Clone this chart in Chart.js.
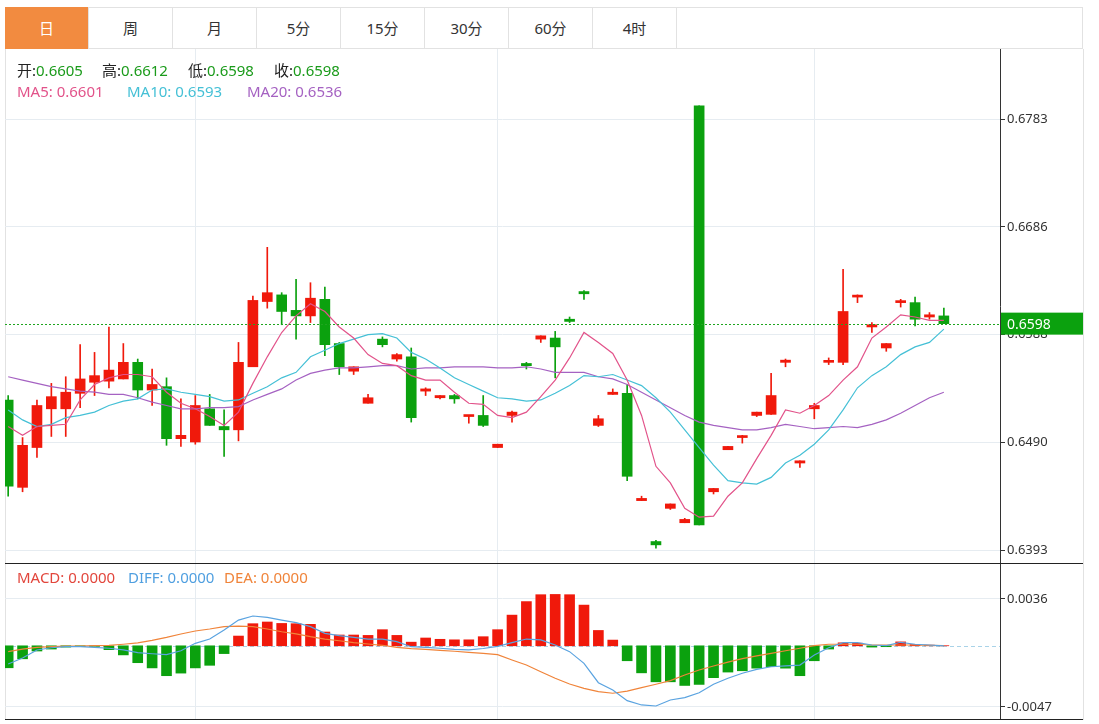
<!DOCTYPE html>
<html>
<head>
<meta charset="utf-8">
<script src="https://cdn.jsdelivr.net/npm/chart.js@4.4.1/dist/chart.umd.min.js"></script>
<style>
body{margin:0;background:#fff;font-family:"Noto Sans","Noto Sans CJK SC",sans-serif;}
#wrap{position:relative;width:1099px;height:724px;overflow:hidden;}
.tab{position:absolute;top:7px;height:42px;width:84px;box-sizing:border-box;border-right:1px solid #e2e2e2;
  text-align:center;line-height:42px;font-size:15px;color:#333;}
.tab.on{background:#f28b40;color:#fff;}
.bar{position:absolute;left:5px;width:1078px;top:7px;height:42px;box-sizing:border-box;border:1px solid #e2e2e2;}
.lg{position:absolute;font-size:15px;white-space:nowrap;line-height:20px;}
.hline{position:absolute;left:5px;width:1078px;height:1px;background:#222;}
.vline{position:absolute;top:49px;width:1px;height:671px;background:#e2e2e2;}
#main{position:absolute;left:0;top:49px;width:1083px;height:514px;}
#sub{position:absolute;left:0;top:563px;width:1083px;height:157px;}
</style>
</head>
<body>
<div id="wrap">
  <div class="bar"></div>
  <div class="tab on" style="left:5px">日</div>
  <div class="tab" style="left:89px">周</div>
  <div class="tab" style="left:173px">月</div>
  <div class="tab" style="left:257px">5分</div>
  <div class="tab" style="left:341px">15分</div>
  <div class="tab" style="left:425px">30分</div>
  <div class="tab" style="left:509px">60分</div>
  <div class="tab" style="left:593px">4时</div>
  <div class="vline" style="left:5px"></div>
  <div class="vline" style="left:1083px"></div>
  <div id="main"><canvas id="mainChart"></canvas></div>
  <div id="sub"><canvas id="macdChart"></canvas></div>
  <div class="hline" style="top:563px"></div>
  <div class="hline" style="top:719px"></div>
  <div id="legend"></div>
</div>
<script>
'use strict';
// daily candles, oldest first
const opens=[0.6529,0.6450,0.6486,0.6521,0.6521,0.6535,0.6545,0.6546,0.6548,0.6563,
  0.6538,0.6541,0.6494,0.6491,0.6521,0.6505,0.6502,0.6559,0.6618,0.6624,
  0.6610,0.6605,0.6620,0.6580,0.6555,0.6526,0.6584,0.6566,0.6568,0.6537,
  0.6531,0.6533,0.6514,0.6515,0.6486,0.6515,0.6562,0.6584,0.6585,0.6602,
  0.6627,0.6506,0.6534,0.6535,0.6438,0.6401,0.6431,0.6418,0.6795,0.6446,
  0.6484,0.6495,0.6515,0.6516,0.6563,0.6472,0.6521,0.6563,0.6563,0.6622,
  0.6595,0.6576,0.6617,0.6617,0.6604,0.6605];
const highs=[0.6533,0.6495,0.6529,0.6544,0.6550,0.6579,0.6572,0.6595,0.6580,0.6566,
  0.6557,0.6549,0.6530,0.6533,0.6534,0.6520,0.6581,0.6623,0.6667,0.6626,
  0.6638,0.6635,0.6631,0.6581,0.6559,0.6534,0.6586,0.6571,0.6576,0.6540,
  0.6533,0.6534,0.6515,0.6533,0.6489,0.6519,0.6563,0.6587,0.6591,0.6604,
  0.6628,0.6515,0.6539,0.6543,0.6442,0.6402,0.6435,0.6422,0.6795,0.6449,
  0.6487,0.6497,0.6518,0.6553,0.6566,0.6474,0.6526,0.6567,0.6647,0.6624,
  0.6599,0.6580,0.6620,0.6622,0.6608,0.6612];
const lows=[0.6442,0.6446,0.6477,0.6496,0.6496,0.6522,0.6533,0.6540,0.6548,0.6530,
  0.6524,0.6488,0.6487,0.6489,0.6506,0.6478,0.6492,0.6559,0.6612,0.6597,
  0.6584,0.6599,0.6569,0.6552,0.6552,0.6526,0.6577,0.6564,0.6509,0.6533,
  0.6530,0.6526,0.6508,0.6505,0.6486,0.6509,0.6557,0.6581,0.6549,0.6599,
  0.6620,0.6505,0.6534,0.6456,0.6438,0.6395,0.6430,0.6418,0.6416,0.6444,
  0.6484,0.6490,0.6514,0.6516,0.6559,0.6468,0.6512,0.6561,0.6561,0.6617,
  0.6590,0.6573,0.6613,0.6596,0.6602,0.6598];
const closes=[0.6451,0.6488,0.6524,0.6532,0.6536,0.6548,0.6551,0.6556,0.6563,0.6538,
  0.6543,0.6494,0.6497,0.6524,0.6506,0.6502,0.6563,0.6619,0.6626,0.6609,
  0.6605,0.6621,0.6579,0.6559,0.6559,0.6531,0.6579,0.6570,0.6513,0.6539,
  0.6533,0.6530,0.6515,0.6506,0.6489,0.6518,0.6560,0.6587,0.6577,0.6600,
  0.6625,0.6512,0.6536,0.6460,0.6440,0.6398,0.6435,0.6421,0.6416,0.6449,
  0.6487,0.6496,0.6518,0.6533,0.6565,0.6474,0.6524,0.6564,0.6609,0.6623,
  0.6597,0.6580,0.6618,0.6602,0.6606,0.6598];

const ma5=[0.6505,0.6497,0.6505,0.6506,0.6507,0.6529,0.6543,0.6549,0.6552,0.6552,
  0.6550,0.6536,0.6526,0.6521,0.6514,0.6506,0.6518,0.6544,0.6568,0.6590,
  0.6605,0.6616,0.6609,0.6595,0.6585,0.6570,0.6562,0.6560,0.6551,0.6547,
  0.6547,0.6536,0.6526,0.6525,0.6515,0.6513,0.6518,0.6532,0.6547,0.6567,
  0.6590,0.6581,0.6571,0.6547,0.6515,0.6469,0.6454,0.6431,0.6423,0.6424,
  0.6442,0.6454,0.6476,0.6497,0.6520,0.6517,0.6524,0.6533,0.6547,0.6559,
  0.6585,0.6595,0.6606,0.6604,0.6601,0.6601];
const ma10=[0.6520,0.6511,0.6505,0.6507,0.6513,0.6515,0.6518,0.6524,0.6528,0.6530,
  0.6538,0.6539,0.6536,0.6534,0.6532,0.6528,0.6529,0.6535,0.6541,0.6549,
  0.6554,0.6568,0.6574,0.6580,0.6584,0.6588,0.6589,0.6585,0.6572,0.6566,
  0.6558,0.6549,0.6543,0.6537,0.6531,0.6530,0.6528,0.6529,0.6535,0.6542,
  0.6551,0.6550,0.6552,0.6547,0.6542,0.6531,0.6518,0.6502,0.6486,0.6470,
  0.6456,0.6454,0.6453,0.6459,0.6472,0.6479,0.6489,0.6502,0.6520,0.6540,
  0.6551,0.6559,0.6570,0.6577,0.6581,0.6593];
const ma20=[0.6550,0.6547,0.6544,0.6541,0.6539,0.6537,0.6536,0.6534,0.6534,0.6531,
  0.6527,0.6524,0.6521,0.6521,0.6522,0.6522,0.6523,0.6529,0.6534,0.6539,
  0.6547,0.6553,0.6556,0.6558,0.6558,0.6559,0.6560,0.6560,0.6557,0.6558,
  0.6558,0.6559,0.6559,0.6559,0.6558,0.6558,0.6559,0.6557,0.6554,0.6554,
  0.6554,0.6550,0.6548,0.6543,0.6536,0.6529,0.6522,0.6515,0.6509,0.6506,
  0.6504,0.6502,0.6502,0.6504,0.6507,0.6505,0.6503,0.6504,0.6505,0.6504,
  0.6507,0.6511,0.6517,0.6524,0.6531,0.6536];

const macd=[-0.00169,-0.00100,-0.00040,-0.00025,-0.00010,-0.00006,-0.00004,-0.00030,-0.00070,-0.00130,
  -0.00170,-0.00230,-0.00210,-0.00170,-0.00150,-0.00060,0.00075,0.00170,0.00183,0.00172,
  0.00170,0.00165,0.00106,0.00083,0.00083,0.00080,0.00124,0.00080,0.00028,0.00060,
  0.00050,0.00046,0.00046,0.00070,0.00124,0.00236,0.00340,0.00393,0.00395,0.00393,
  0.00313,0.00118,0.00044,-0.00115,-0.00208,-0.00277,-0.00277,-0.00305,-0.00297,-0.00245,
  -0.00202,-0.00192,-0.00172,-0.00160,-0.00172,-0.00230,-0.00115,-0.00025,0.00023,0.00020,
  -0.00010,-0.00007,0.00030,0.00010,0.00005,0.00001];
const diff=[-0.00140,-0.00094,-0.00032,-0.00015,-0.00007,-0.00007,-0.00012,-0.00019,-0.00032,-0.00053,
  -0.00061,-0.00068,-0.00038,0.00019,0.00052,0.00122,0.00198,0.00229,0.00219,0.00198,
  0.00178,0.00147,0.00096,0.00078,0.00065,0.00052,0.00052,0.00032,-0.00007,-0.00012,
  -0.00019,-0.00027,-0.00032,-0.00021,-0.00005,0.00024,0.00052,0.00045,0.00006,-0.00045,
  -0.00135,-0.00284,-0.00340,-0.00422,-0.00455,-0.00463,-0.00417,-0.00399,-0.00361,-0.00296,
  -0.00250,-0.00211,-0.00181,-0.00161,-0.00155,-0.00148,-0.00071,-0.00015,0.00024,0.00024,
  0.00006,0.00001,0.00027,0.00012,0.00006,0.00000];
const dea=[-0.00045,-0.00025,-0.00012,-0.00007,-0.00002,-0.00002,0.00001,0.00004,0.00012,0.00022,
  0.00042,0.00065,0.00091,0.00114,0.00129,0.00147,0.00152,0.00147,0.00129,0.00108,
  0.00091,0.00070,0.00052,0.00039,0.00024,0.00014,0.00004,-0.00012,-0.00022,-0.00027,
  -0.00035,-0.00042,-0.00050,-0.00058,-0.00068,-0.00109,-0.00148,-0.00199,-0.00250,-0.00294,
  -0.00327,-0.00353,-0.00365,-0.00348,-0.00322,-0.00296,-0.00268,-0.00225,-0.00186,-0.00155,
  -0.00125,-0.00099,-0.00078,-0.00058,-0.00038,-0.00019,0.00001,0.00012,0.00012,0.00012,
  0.00006,0.00006,0.00006,0.00006,0.00004,0.00001];

const priceTicks=[0.6393,0.64905,0.6588,0.66855,0.6783];
const priceTickLabels=['0.6393','0.6490','0.6588','0.6686','0.6783'];
const macdTicks=[-0.0047,0.0036];
const macdTickLabels=['-0.0047','0.0036'];
const gridIdx=[13,34,56];

const RED='#f0190b';
const GREEN='#0ba10e';
const GRID='#e6ecf1';
const FONT='"Noto Sans","Noto Sans CJK SC",sans-serif';

Chart.defaults.font.family=FONT;

// legend text
const last=closes.length-1;
const legend=document.getElementById('legend');
function put(x,y,html){
  const s=document.createElement('div');
  s.className='lg';
  s.style.left=x+'px';
  s.style.top=y+'px';
  s.innerHTML=html;
  legend.appendChild(s);
}
const g=v=>'<span style="color:#1b9b1b">'+v.toFixed(4)+'</span>';
put(17,60,'<span style="color:#222">开:</span>'+g(opens[last]));
put(102,60,'<span style="color:#222">高:</span>'+g(highs[last]));
put(188,60,'<span style="color:#222">低:</span>'+g(lows[last]));
put(274,60,'<span style="color:#222">收:</span>'+g(closes[last]));
put(17,81,'<span style="color:#e2538a">MA5: '+ma5[last].toFixed(4)+'</span>');
put(127,81,'<span style="color:#45c0d6">MA10: '+ma10[last].toFixed(4)+'</span>');
put(247,81,'<span style="color:#a562c2">MA20: '+ma20[last].toFixed(4)+'</span>');
put(17,567,'<span style="color:#e2463c">MACD: '+Math.abs(macd[last]).toFixed(4)+'</span>');
put(128,567,'<span style="color:#4f9fe0">DIFF: '+Math.abs(diff[last]).toFixed(4)+'</span>');
put(224,567,'<span style="color:#f0843a">DEA: '+Math.abs(dea[last]).toFixed(4)+'</span>');

const candleColors=closes.map((c,i)=>c>=opens[i]?RED:GREEN);

function xScale(){
  return {
    type:'linear',min:-0.22,max:68.9,offset:false,
    afterBuildTicks:s=>{s.ticks=gridIdx.map(v=>({value:v}));},
    ticks:{display:false},
    grid:{color:GRID,drawTicks:false,offset:false},
    border:{display:false},
    afterFit:s=>{s.height=0;s.paddingLeft=0;s.paddingRight=0;}
  };
}
// the value axis on the right, no extra room kept for edge labels
function yScale(min,max,ticks,labels){
  return {
    position:'right',min:min,max:max,
    afterBuildTicks:s=>{s.ticks=ticks.map(v=>({value:v}));},
    ticks:{callback:(v,i)=>labels[i],color:'#333',font:{size:13},padding:2},
    grid:{color:GRID,tickColor:'#333',tickLength:5},
    border:{color:'#333'},
    afterFit:s=>{s.width=83;s.paddingTop=0;s.paddingBottom=0;}
  };
}

// current price: dotted line + green box on the axis
const pricePlugin={
  id:'pricePlugin',
  afterDraw(chart){
    const y=chart.scales.y.getPixelForValue(closes[last]);
    const a=chart.chartArea;
    const c=chart.ctx;
    c.save();
    c.strokeStyle='#1fa51f';
    c.lineWidth=1;
    c.setLineDash([2,2]);
    c.beginPath();
    c.moveTo(a.left,Math.round(y)+0.5);
    c.lineTo(a.right,Math.round(y)+0.5);
    c.stroke();
    c.setLineDash([]);
    c.fillStyle='#0ba10e';
    c.fillRect(a.right+1,y-11,83,22);
    c.fillStyle='#fff';
    c.font='14px '+FONT;
    c.textBaseline='middle';
    c.fillText(closes[last].toFixed(4),a.right+7,y+1);
    c.restore();
  }
};

new Chart(document.getElementById('mainChart'),{
  type:'bar',
  data:{datasets:[
    {type:'line',label:'MA5',data:ma5.map((v,i)=>({x:i,y:v})),borderColor:'#e2538a',borderWidth:1.2,pointRadius:0,order:0},
    {type:'line',label:'MA10',data:ma10.map((v,i)=>({x:i,y:v})),borderColor:'#45c0d6',borderWidth:1.2,pointRadius:0,order:0},
    {type:'line',label:'MA20',data:ma20.map((v,i)=>({x:i,y:v})),borderColor:'#a562c2',borderWidth:1.2,pointRadius:0,order:0},
    {label:'wick',data:highs.map((h,i)=>({x:i,y:[lows[i],h]})),backgroundColor:candleColors,
      barThickness:1,grouped:false,order:2},
    {label:'body',data:opens.map((o,i)=>({x:i,y:[o,closes[i]]})),backgroundColor:candleColors,
      barThickness:10,minBarLength:2,grouped:false,order:1}
  ]},
  options:{
    responsive:true,maintainAspectRatio:false,animation:false,
    layout:{padding:{left:5,top:0,right:0,bottom:0}},
    plugins:{legend:{display:false},tooltip:{enabled:false}},
    scales:{
      x:xScale(),
      y:yScale(0.63816,0.68463,priceTicks,priceTickLabels)
    }
  },
  plugins:[pricePlugin]
});

const zeroPlugin={
  id:'zeroPlugin',
  beforeDatasetsDraw(chart){
    const y=Math.round(chart.scales.y.getPixelForValue(0))+0.5;
    const a=chart.chartArea;
    const c=chart.ctx;
    c.save();
    c.strokeStyle='#a9d3e8';
    c.lineWidth=1;
    c.setLineDash([4,3]);
    c.beginPath();
    c.moveTo(a.left,y);
    c.lineTo(a.right,y);
    c.stroke();
    c.restore();
  }
};

new Chart(document.getElementById('macdChart'),{
  type:'bar',
  data:{datasets:[
    {type:'line',label:'DIFF',data:diff.map((v,i)=>({x:i,y:v})),borderColor:'#5aa3e0',borderWidth:1.2,pointRadius:0,order:0},
    {type:'line',label:'DEA',data:dea.map((v,i)=>({x:i,y:v})),borderColor:'#f0843a',borderWidth:1.2,pointRadius:0,order:0},
    {label:'MACD',data:macd.map((v,i)=>({x:i,y:v})),backgroundColor:macd.map(v=>v>=0?RED:GREEN),
      barThickness:10,grouped:false,order:1}
  ]},
  options:{
    responsive:true,maintainAspectRatio:false,animation:false,
    layout:{padding:{left:5,top:0,right:0,bottom:0}},
    plugins:{legend:{display:false},tooltip:{enabled:false}},
    scales:{
      x:xScale(),
      y:yScale(-0.005706,0.006367,macdTicks,macdTickLabels)
    }
  },
  plugins:[zeroPlugin]
});
</script>
</body>
</html>
